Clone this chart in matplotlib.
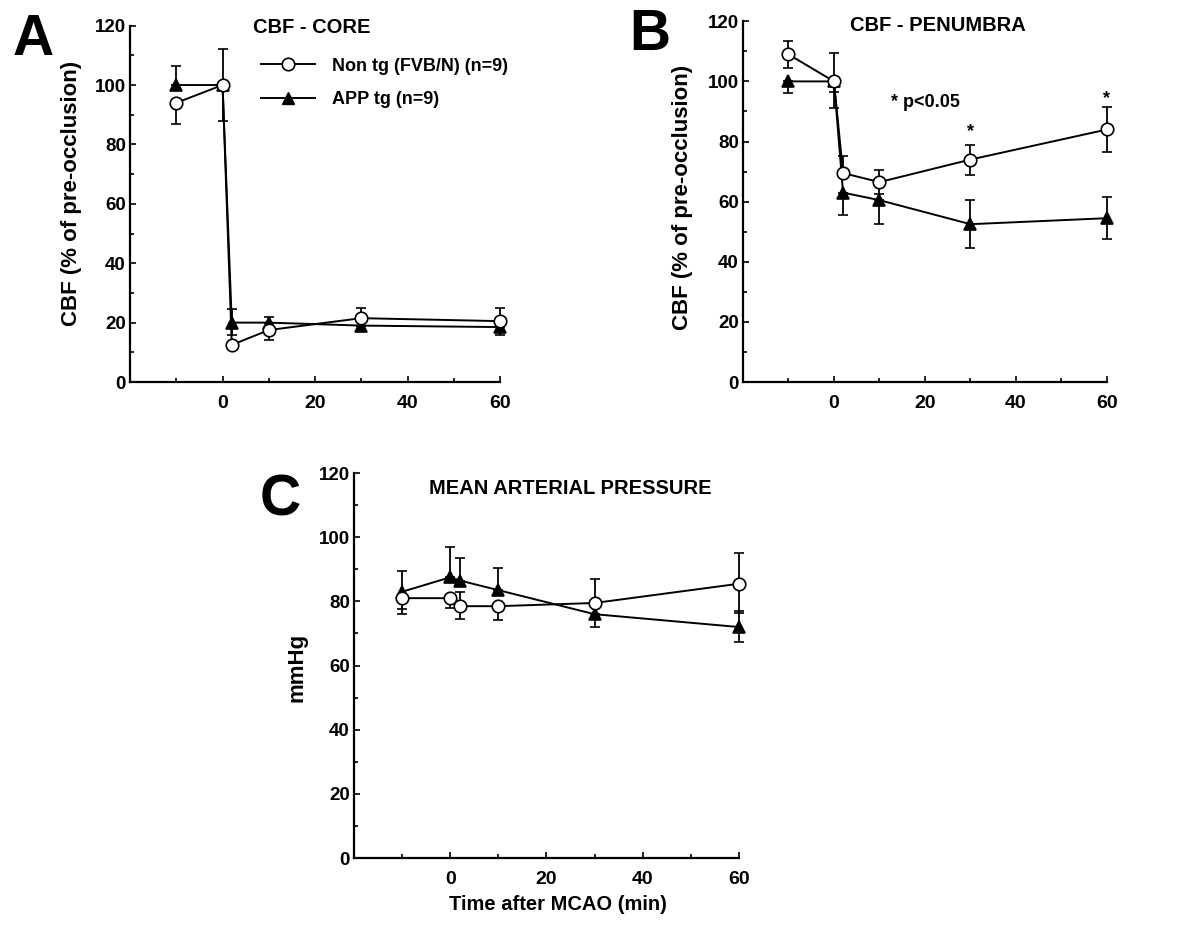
import matplotlib
matplotlib.use("Agg")
import matplotlib.pyplot as plt
from matplotlib.lines import Line2D
from matplotlib.ticker import MultipleLocator, FixedLocator

plt.rcParams["font.family"] = ["Liberation Sans", "DejaVu Sans"]
plt.rcParams["font.weight"] = "bold"

# ---------------------------------------------------------------------------
# Data
# ---------------------------------------------------------------------------
time_min = [-10, 0, 2, 10, 30, 60]
x_ticks = [0, 20, 40, 60]

# A: CBF core
nontg_core = [94, 100, 12.5, 17.5, 21.5, 20.5]
nontg_core_lo = [7, 12, 0, 3.5, 0, 0]
nontg_core_hi = [0, 0, 0, 0, 3.5, 4.5]
app_core = [100, 100, 20, 20, 19, 18.5]
app_core_lo = [0, 0, 4, 0, 0, 2.5]
app_core_hi = [6.5, 12, 4.5, 2, 0, 0]

# B: CBF penumbra
nontg_pen = [109, 100, 69.5, 66.5, 74, 84]
nontg_pen_lo = [4.5, 3.5, 0, 4, 5, 7.5]
nontg_pen_hi = [4.5, 9.5, 5.8, 4, 5, 7.5]
app_pen = [100, 100, 63, 60.5, 52.5, 54.5]
app_pen_lo = [4, 9, 7.3, 8, 7.8, 7]
app_pen_hi = [0, 0, 0, 0, 8, 7]
signif_times = [30, 60]
signif_y = [83.3, 94.4]

# C: mean arterial pressure
nontg_map = [81, 81, 78.5, 78.5, 79.5, 85.5]
nontg_map_lo = [5, 3, 4, 4.2, 0, 9]
nontg_map_hi = [0, 0, 4.5, 0, 7.5, 9.7]
app_map = [83, 87.5, 86.5, 83.5, 76, 72]
app_map_lo = [5.5, 0, 0, 0, 4, 4.7]
app_map_hi = [6.5, 9.3, 7, 6.8, 0, 5]

LW = 1.4


def style_axes(ax):
    ax.set_xlim(-20, 60)
    ax.set_ylim(0, 120)
    for s in ("top", "right"):
        ax.spines[s].set_visible(False)
    for s in ("left", "bottom"):
        ax.spines[s].set_linewidth(1.6)
    ax.xaxis.set_major_locator(FixedLocator(x_ticks))
    ax.xaxis.set_minor_locator(FixedLocator([-10, 10, 30, 50]))
    ax.yaxis.set_major_locator(MultipleLocator(20))
    ax.yaxis.set_minor_locator(MultipleLocator(10))
    ax.tick_params(which="both", direction="in", width=1.2)
    ax.tick_params(which="major", length=4)
    ax.tick_params(which="minor", length=3)
    ax.tick_params(axis="y", labelsize=13.5, pad=3)
    ax.tick_params(axis="x", labelsize=14, pad=9)
    for lab in ax.get_xticklabels() + ax.get_yticklabels():
        lab.set_fontweight("bold")


def draw_series(ax, y_o, lo_o, hi_o, y_t, lo_t, hi_t):
    for y, lo, hi, mk, fc, z in [(y_t, lo_t, hi_t, "^", "black", 2),
                                 (y_o, lo_o, hi_o, "o", "white", 3)]:
        cont = ax.errorbar(time_min, y, yerr=[lo, hi], color="black", lw=LW,
                           marker=mk, ms=9, mfc=fc, mec="black", mew=1.2,
                           ecolor="black", elinewidth=1.3, capsize=3.5,
                           capthick=1.3, zorder=z)
        data_line, caps, bars = cont.lines
        for art in [data_line, *caps, *bars]:
            art.set_clip_on(False)


fig = plt.figure(figsize=(11.78, 9.25), dpi=100)

ax_a = fig.add_axes([0.1104, 0.587, 0.3141, 0.3853])
ax_b = fig.add_axes([0.6307, 0.587, 0.309, 0.390])
ax_c = fig.add_axes([0.3005, 0.0724, 0.3268, 0.4162])

# --- A ---
draw_series(ax_a, nontg_core, nontg_core_lo, nontg_core_hi,
            app_core, app_core_lo, app_core_hi)
style_axes(ax_a)
ax_a.text(0.49, 0.995, "CBF - CORE", transform=ax_a.transAxes,
          ha="center", va="center", fontsize=14.5, fontweight="bold")
ax_a.text(-0.157, 0.53, "CBF (% of pre-occlusion)", transform=ax_a.transAxes,
          ha="center", va="center", rotation=90, fontsize=16, fontweight="bold")
legend_handles = [
    Line2D([], [], color="black", lw=LW, marker="o", ms=9, mfc="white",
           mec="black", mew=1.2),
    Line2D([], [], color="black", lw=LW, marker="^", ms=9, mfc="black",
           mec="black"),
]
ax_a.legend(legend_handles, ["Non tg (FVB/N) (n=9)", "APP tg (n=9)"],
            loc="upper left", bbox_to_anchor=(0.33, 0.935), frameon=False,
            borderpad=0, handlelength=3.0, handletextpad=0.9,
            labelspacing=0.9, prop={"size": 13, "weight": "bold"})

# --- B ---
draw_series(ax_b, nontg_pen, nontg_pen_lo, nontg_pen_hi,
            app_pen, app_pen_lo, app_pen_hi)
style_axes(ax_b)
ax_b.text(0.536, 0.989, "CBF - PENUMBRA", transform=ax_b.transAxes,
          ha="center", va="center", fontsize=14.5, fontweight="bold")
ax_b.text(-0.165, 0.512, "CBF (% of pre-occlusion)", transform=ax_b.transAxes,
          ha="center", va="center", rotation=90, fontsize=16, fontweight="bold")
ax_b.text(20, 93, "* p<0.05", ha="center", va="center",
          fontsize=13, fontweight="bold")
for xs, ys in zip(signif_times, signif_y):
    ax_b.text(xs, ys, "*", ha="center", va="center", fontsize=13,
              fontweight="bold")

# --- C ---
draw_series(ax_c, nontg_map, nontg_map_lo, nontg_map_hi,
            app_map, app_map_lo, app_map_hi)
style_axes(ax_c)
ax_c.text(0.561, 0.961, "MEAN ARTERIAL PRESSURE", transform=ax_c.transAxes,
          ha="center", va="center", fontsize=14.5, fontweight="bold")
ax_c.text(-0.148, 0.496, "mmHg", transform=ax_c.transAxes,
          ha="center", va="center", rotation=90, fontsize=16, fontweight="bold")
ax_c.text(0.53, -0.122, "Time after MCAO (min)", transform=ax_c.transAxes,
          ha="center", va="center", fontsize=14.5, fontweight="bold")

# panel letters (baseline at the bottom of each glyph)
for lx, ly, letter in [(33, 55, "A"), (650, 50, "B"), (280, 516, "C")]:
    fig.text(lx / 1178, 1 - ly / 925, letter, ha="center", va="baseline",
             fontsize=41, fontweight="bold")

fig.savefig("out.png", dpi=100)
